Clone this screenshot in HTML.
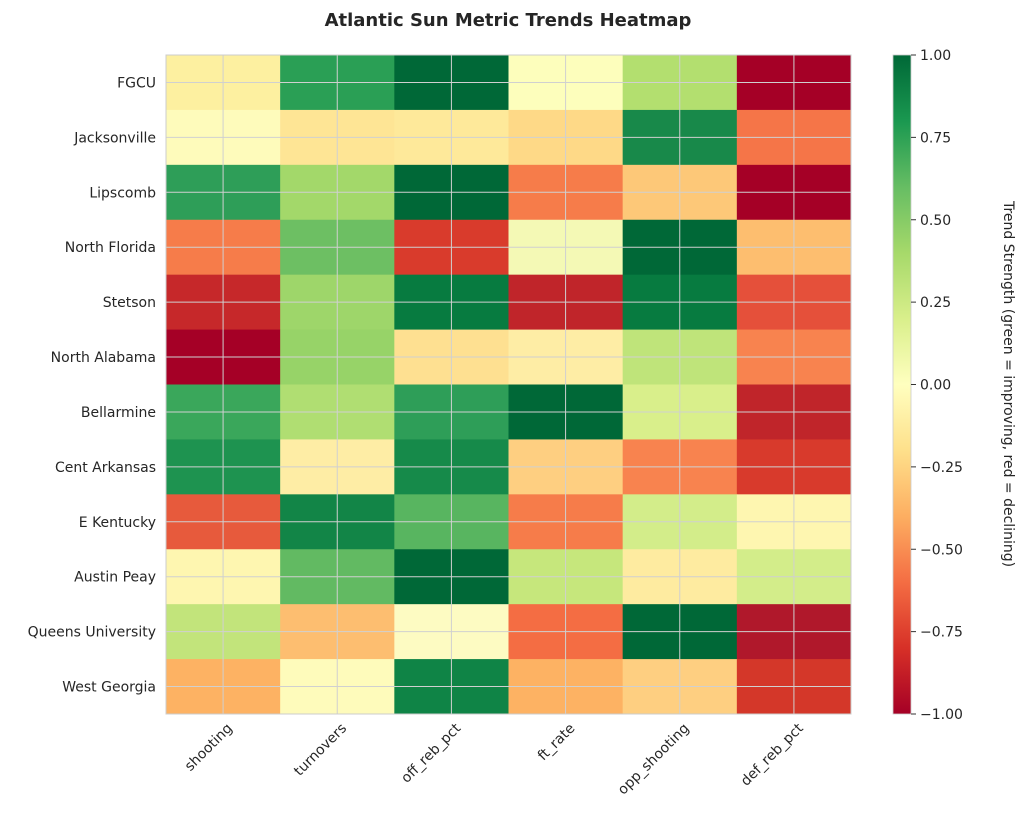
<!DOCTYPE html>
<html><head><meta charset="utf-8"><style>
body{margin:0;background:#fff;}
svg text{font-family:"DejaVu Sans","Liberation Sans",sans-serif;fill:#262626;}
</style></head><body>
<svg width="1024" height="821" viewBox="0 0 1024 821" xmlns="http://www.w3.org/2000/svg">
<defs>
<linearGradient id="cb" x1="0" y1="1" x2="0" y2="0">
<stop offset="0" stop-color="#a50026"/>
<stop offset="0.1" stop-color="#d73027"/>
<stop offset="0.2" stop-color="#f46d43"/>
<stop offset="0.3" stop-color="#fdae61"/>
<stop offset="0.4" stop-color="#fee08b"/>
<stop offset="0.5" stop-color="#ffffbf"/>
<stop offset="0.6" stop-color="#d9ef8b"/>
<stop offset="0.7" stop-color="#a6d96a"/>
<stop offset="0.8" stop-color="#66bd63"/>
<stop offset="0.9" stop-color="#1a9850"/>
<stop offset="1" stop-color="#006837"/>
</linearGradient>
</defs>
<text x="508" y="26" text-anchor="middle" font-size="18" font-weight="bold">Atlantic Sun Metric Trends Heatmap</text>
<g id="cells"></g>
<g id="grid" stroke="#d0d0d0" stroke-width="1"></g>
<rect x="166" y="55" width="685" height="659" fill="none" stroke="#ccc"/>
<g id="ylab" font-size="14"></g>
<g id="xlab" font-size="14"></g>
<rect x="893" y="55" width="18" height="659" fill="url(#cb)"/>
<rect x="893" y="55" width="18" height="659" fill="none" stroke="#ccc" stroke-width="0.8"/>
<g id="cbt" font-size="14"></g>
<text transform="translate(1004,384) rotate(90)" text-anchor="middle" font-size="14">Trend Strength (green = improving, red = declining)</text>
</svg>
<script>
var rows=["FGCU","Jacksonville","Lipscomb","North Florida","Stetson","North Alabama","Bellarmine","Cent Arkansas","E Kentucky","Austin Peay","Queens University","West Georgia"];
var cols=["shooting","turnovers","off_reb_pct","ft_rate","opp_shooting","def_reb_pct"];
var c=[
["#fdf0a0","#2a9f55","#006837","#fdfebc","#b3df6f","#a50026"],
["#fefbbb","#fee595","#fee99a","#fed987","#18894a","#f57548"],
["#2e9e58","#a3d86a","#006837","#f67c4a","#fdc878","#a50026"],
["#f67c4a","#6dbf63","#d93b2c","#f4f9b5","#006837","#fdbe6f"],
["#c6282a","#9ed66a","#077b40","#c0252a","#077b40","#e5503a"],
["#a50026","#97d368","#fee091","#feeda5","#bfe47a","#f8834f"],
["#3aa75b","#b0de72","#2e9e58","#006837","#d9ef8b","#c0252a"],
["#1e9350","#feeda5","#168a4a","#fecf81","#f8834f","#d83a2c"],
["#e75a3c","#128547","#58b560","#f67c4a","#d3ed8a","#fef6b0"],
["#fef6b0","#62ba62","#006837","#c6e77c","#feeba0","#d3ed8a"],
["#c2e47b","#fdbe70","#fdfbc2","#f46d43","#006837","#b0182b"],
["#fdb263","#fefbbb","#0f8446","#fdb263","#fecf81","#d43729"]];
var NS="http://www.w3.org/2000/svg",X0=166,Y0=55,W=685/6,H=659/12;
function el(t,a,p,txt){var e=document.createElementNS(NS,t);for(var k in a)e.setAttribute(k,a[k]);if(txt)e.textContent=txt;document.getElementById(p).appendChild(e);}
for(var i=0;i<12;i++)for(var j=0;j<6;j++)el("rect",{x:X0+j*W,y:Y0+i*H,width:W+0.5,height:H+0.5,fill:c[i][j]},"cells");
for(var j=0;j<6;j++){var x=X0+(j+0.5)*W;el("line",{x1:x,y1:Y0,x2:x,y2:Y0+659},"grid");
el("text",{transform:"translate("+(x+10)+",729) rotate(-45)","text-anchor":"end"},"xlab",cols[j]);}
for(var i=0;i<12;i++){var y=Y0+(i+0.5)*H;el("line",{x1:X0,y1:y,x2:X0+685,y2:y},"grid");
el("text",{x:156,y:y+5,"text-anchor":"end"},"ylab",rows[i]);}
for(var k=0;k<=8;k++){var v=-1+k*0.25,y=714-k*659/8;
el("line",{x1:911,y1:y,x2:916,y2:y,stroke:"#333"},"cbt");
el("text",{x:920,y:y+5},"cbt",(v<0?"\u2212":"")+Math.abs(v).toFixed(2));}
</script>
</body></html>
